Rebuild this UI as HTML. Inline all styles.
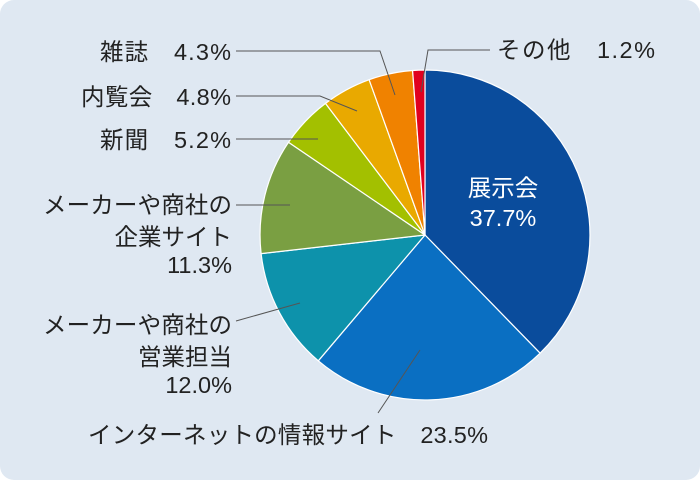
<!DOCTYPE html>
<html><head><meta charset="utf-8"><style>
html,body{margin:0;padding:0;background:#fff;}
svg{display:block;}
text{font-family:"Liberation Sans","Noto Sans CJK JP",sans-serif;font-size:23.5px;fill:#222;}
</style></head><body>
<svg width="700" height="480" viewBox="0 0 700 480">
<rect x="0" y="0" width="700" height="480" rx="14" fill="#dfe8f2"/>
<g stroke="#fff" stroke-width="1.2" stroke-linejoin="round">
<path d="M425,235 L425,70 A165,165 0 0 1 540.1,353.2 Z" fill="#0a4c9c"/>
<path d="M425,235 L540.1,353.2 A165,165 0 0 1 318.3,360.8 Z" fill="#0a6fc2"/>
<path d="M425,235 L318.3,360.8 A165,165 0 0 1 261.1,253.6 Z" fill="#0d92ab"/>
<path d="M425,235 L261.1,253.6 A165,165 0 0 1 288.5,142.3 Z" fill="#7a9f42"/>
<path d="M425,235 L288.5,142.3 A165,165 0 0 1 325.5,103.4 Z" fill="#a3c000"/>
<path d="M425,235 L325.5,103.4 A165,165 0 0 1 369.1,79.7 Z" fill="#e9a900"/>
<path d="M425,235 L369.1,79.7 A165,165 0 0 1 412.6,70.5 Z" fill="#f08200"/>
<path d="M425,235 L412.6,70.5 A165,165 0 0 1 425,70 Z" fill="#e1001f"/>
</g>
<g stroke="#555" stroke-width="1" fill="none">
<polyline points="490,50 428,50 421,92"/>
<polyline points="236,51 380,51 395,95"/>
<polyline points="236,96 320,96 357,111"/>
<polyline points="236,139 318,139"/>
<polyline points="236,205 290,205"/>
<polyline points="236,321 300,303"/>
<polyline points="378,413 420,350"/>
</g>
<text x="497" y="58" textLength="158" lengthAdjust="spacing">その他　1.2%</text>
<text x="100" y="60" textLength="131" lengthAdjust="spacing">雑誌　4.3%</text>
<text x="81" y="105" textLength="150" lengthAdjust="spacing">内覧会　4.8%</text>
<text x="100" y="148" textLength="131" lengthAdjust="spacing">新聞　5.2%</text>
<text x="43" y="213" textLength="189" lengthAdjust="spacing">メーカーや商社の</text>
<text x="232" y="245" text-anchor="end">企業サイト</text>
<text x="232" y="273" text-anchor="end">11.3%</text>
<text x="43" y="333" textLength="189" lengthAdjust="spacing">メーカーや商社の</text>
<text x="232" y="365" text-anchor="end">営業担当</text>
<text x="232" y="393" text-anchor="end">12.0%</text>
<text x="88" y="443" textLength="400" lengthAdjust="spacing">インターネットの情報サイト　23.5%</text>
<text x="503" y="196" text-anchor="middle" style="fill:#fff">展示会</text>
<text x="503" y="226" text-anchor="middle" style="fill:#fff">37.7%</text>
</svg>
</body></html>
